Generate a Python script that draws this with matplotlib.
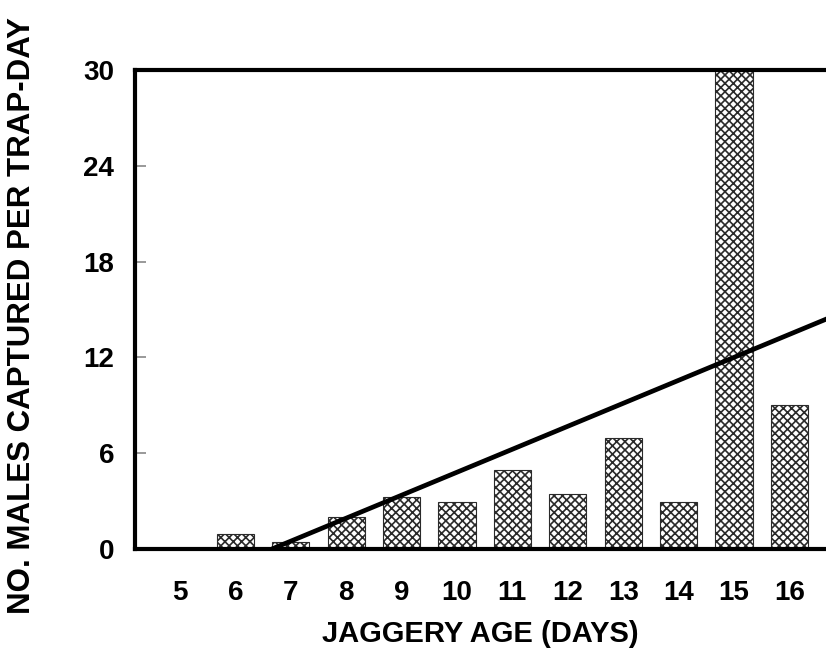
#!/usr/bin/env python3
"""Males captured per trap-day against jaggery age, with the fitted trend line."""
import matplotlib
matplotlib.use("Agg")
import matplotlib.pyplot as plt

# jaggery age (days) and mean catch per trap-day
ages = [5, 6, 7, 8, 9, 10, 11, 12, 13, 14, 15, 16]
males = [0.0, 0.95, 0.45, 2.0, 3.25, 2.95, 4.95, 3.45, 6.95, 2.95, 30.0, 9.0]

# fitted regression line, endpoints as drawn
trend_x = [6.66, 16.7]
trend_y = [0.0, 14.45]

y_ticks = [0, 6, 12, 18, 24, 30]

plt.rcParams["font.family"] = ["Liberation Sans", "DejaVu Sans"]
plt.rcParams["font.weight"] = "bold"
plt.rcParams["hatch.linewidth"] = 1.2

fig = plt.figure(figsize=(8.26, 6.5), dpi=100)
ax = fig.add_axes([135 / 826, 101 / 650, 691 / 826, 479 / 650])

ax.bar(ages, males, width=0.67, facecolor="white", edgecolor="#2a2a2a",
       linewidth=0.8, hatch="xxxx", zorder=1)
ax.plot(trend_x, trend_y, color="black", linewidth=3.4, zorder=3,
        solid_capstyle="butt")

ax.set_xlim(4.19, 16.66)
ax.set_ylim(0, 30)
ax.set_xticks(ages)
ax.set_yticks(y_ticks)
ax.tick_params(axis="x", length=0, pad=22, labelsize=20)
ax.tick_params(axis="y", direction="in", length=8, width=1.2, color="#888888",
               pad=15, labelsize=20)
for lab in ax.get_xticklabels() + ax.get_yticklabels():
    lab.set_fontweight("bold")

for side in ("left", "top", "bottom"):
    ax.spines[side].set_linewidth(3)
    ax.spines[side].set_color("black")
ax.spines["right"].set_visible(False)

fig.text(480 / 826, 1 - 634 / 650, "JAGGERY AGE (DAYS)", ha="center",
         va="center", fontsize=21, fontweight="bold")
fig.text(22 / 826, 1 - 316 / 650, "NO. MALES CAPTURED PER TRAP-DAY",
         rotation=90, ha="center", va="center", fontsize=22.5,
         fontweight="bold")

fig.savefig("out.png", dpi=100)
